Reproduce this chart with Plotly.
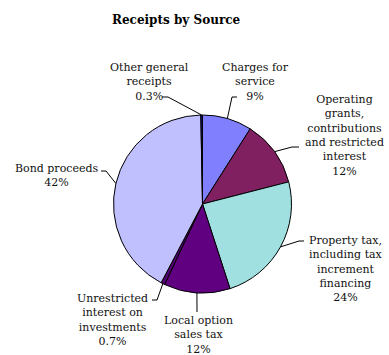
import math
import plotly.graph_objects as go

# ---- data ----
labels = [
    "Charges for<br>service",
    "Operating<br>grants,<br>contributions<br>and restricted<br>interest",
    "Property tax,<br>including tax<br>increment<br>financing",
    "Local option<br>sales tax",
    "Unrestricted<br>interest on<br>investments",
    "Bond proceeds",
    "Other general<br>receipts",
]
values = [9, 12, 24, 12, 0.7, 42, 0.3]
pct_text = ["9%", "12%", "24%", "12%", "0.7%", "42%", "0.3%"]
colors = ["#8080FF", "#802060", "#A0E0E0", "#600080", "#500070", "#C0C0FF", "#10108A"]

# ---- layout (pixels) ----
W, H = 389, 355
CX, CY, R = 202.5, 204.0, 89.0

# label block centres and leader start/elbow points (px)
label_pos = [(255, 82), (344, 136), (346, 269), (198, 335), (112, 320), (56, 175), (149, 82)]
leader_start = [(237, 97), (299, 147), (304, 241), (197, 312), (152, 300), (101, 171), (162, 97)]
leader_elbow = [(232, 97), (292, 147), (299, 241), (197, 312), (157, 300), (106, 171), (168, 97)]

FONT = "DejaVu Serif"


def px(x):
    return x / W


def py(y):
    return 1 - y / H


fig = go.Figure(
    go.Pie(
        labels=[l.replace("<br>", " ") for l in labels],
        values=values,
        sort=False,
        direction="clockwise",
        rotation=0,
        marker=dict(colors=colors, line=dict(color="#000000", width=1)),
        textinfo="none",
        hoverinfo="label+percent",
        showlegend=False,
        domain=dict(x=[px(CX - R), px(CX + R)], y=[py(CY + R), py(CY - R)]),
    )
)

total = sum(values)
cum = 0.0
annotations = []
shapes = []
for i, v in enumerate(values):
    mid = (cum + v / 2) / total * 2 * math.pi
    cum += v
    ex = CX + R * math.sin(mid)
    ey = CY - R * math.cos(mid)
    sx, sy = leader_start[i]
    bx, by = leader_elbow[i]
    path = f"M {px(sx)} {py(sy)} L {px(bx)} {py(by)} L {px(ex)} {py(ey)}"
    shapes.append(dict(type="path", xref="paper", yref="paper", path=path,
                       line=dict(color="#000000", width=1)))
    lx, ly = label_pos[i]
    annotations.append(dict(
        x=px(lx), y=py(ly), xref="paper", yref="paper",
        text=labels[i] + "<br>" + pct_text[i], showarrow=False,
        xanchor="center", yanchor="middle", align="center",
        font=dict(family=FONT, size=11, color="#111111"),
    ))

annotations.append(dict(
    x=px(176), y=py(20), xref="paper", yref="paper",
    text="<b>Receipts by Source</b>", showarrow=False,
    xanchor="center", yanchor="middle",
    font=dict(family=FONT, size=12, color="#000000"),
))

fig.update_layout(
    width=W, height=H,
    margin=dict(l=0, r=0, t=0, b=0),
    paper_bgcolor="#FFFFFF",
    plot_bgcolor="#FFFFFF",
    annotations=annotations,
    shapes=shapes,
)

fig.write_html("out.html")
